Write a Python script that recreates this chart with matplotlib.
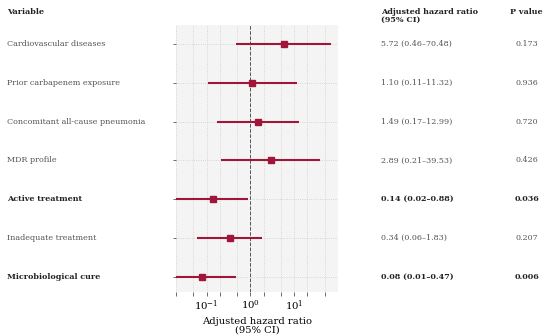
import matplotlib.pyplot as plt
import matplotlib.transforms as mtransforms
from matplotlib.ticker import LogLocator, NullFormatter

# Data
variables = ['Cardiovascular diseases', 'Prior carbapenem exposure',
             'Concomitant all-cause pneumonia', 'MDR profile',
             'Active treatment', 'Inadequate treatment',
             'Microbiological cure']
hr = [5.72, 1.10, 1.49, 2.89, 0.14, 0.34, 0.08]
ci_low = [0.46, 0.11, 0.17, 0.21, 0.02, 0.06, 0.01]
ci_high = [70.48, 11.32, 12.99, 39.53, 0.88, 1.83, 0.47]
p_values = ['0.173', '0.936', '0.720', '0.426', '0.036', '0.207', '0.006']
significant = [False, False, False, False, True, False, True]

plt.rcParams['font.family'] = 'DejaVu Serif'
plt.rcParams['mathtext.fontset'] = 'dejavuserif'
red = '#a0163a'
fs = 5.8

fig = plt.figure(figsize=(5.5, 3.36), dpi=100)
ax = fig.add_axes([0.32, 0.131, 0.2945, 0.795])
ax.set_facecolor('#f4f4f4')

n = len(variables)
ypos = [n - 1 - i for i in range(n)]

for y, h, lo, hi in zip(ypos, hr, ci_low, ci_high):
    ax.plot([lo, hi], [y, y], color=red, lw=1.5, solid_capstyle='butt', zorder=3)
    ax.plot(h, y, marker='s', ms=3.8, color=red, zorder=4)

ax.axvline(1, color='#555555', ls='--', lw=0.7, zorder=2)

ax.set_xscale('log')
ax.set_xlim(0.02, 100)
ax.set_ylim(-0.39, n - 1 + 0.49)
ax.xaxis.set_minor_locator(LogLocator(base=10, subs=(2, 5)))
ax.xaxis.set_minor_formatter(NullFormatter())
ax.set_xticks([0.1, 1, 10])
ax.set_yticks(ypos)
ax.set_yticklabels([])
ax.grid(True, which='both', axis='x', color='#cccccc', ls=':', lw=0.6)
ax.grid(True, axis='y', color='#cccccc', ls=':', lw=0.6)
ax.tick_params(axis='x', which='both', length=3, width=0.6, color='#555555',
               labelsize=7.3, pad=1.5)
ax.tick_params(axis='y', length=2, width=0.6, color='#555555')
for s in ax.spines.values():
    s.set_visible(False)
ax.set_xlabel('Adjusted hazard ratio\n(95% CI)', fontsize=7.2, labelpad=3, linespacing=0.9)

# table text
tr = mtransforms.blended_transform_factory(fig.transFigure, ax.transData)
for y, name, h, lo, hi, p, sig in zip(ypos, variables, hr, ci_low, ci_high, p_values, significant):
    weight = 'bold' if sig else 'normal'
    col = '#222222' if sig else '#555555'
    ax.text(7 / 550, y, name, transform=tr, fontsize=fs, fontweight=weight,
            color=col, va='center', ha='left')
    ax.text(381 / 550, y, f'{h:.2f} ({lo:.2f}\u2013{hi:.2f})', transform=tr,
            fontsize=fs, fontweight=weight, color=col, va='center', ha='left')
    ax.text(515 / 550, y, p, transform=tr, fontsize=fs, fontweight=weight,
            color=col, va='center', ha='left')

fig.text(7 / 550, 1 - 12 / 336, 'Variable', fontsize=fs, fontweight='bold',
         color='#222222', va='center', ha='left')
fig.text(381 / 550, 1 - 8 / 336, 'Adjusted hazard ratio\n(95% CI)', fontsize=fs,
         fontweight='bold', color='#222222', va='top', ha='left', linespacing=0.95)
fig.text(510 / 550, 1 - 12 / 336, 'P value', fontsize=fs, fontweight='bold',
         color='#222222', va='center', ha='left')

plt.savefig('out.png', dpi=100)
